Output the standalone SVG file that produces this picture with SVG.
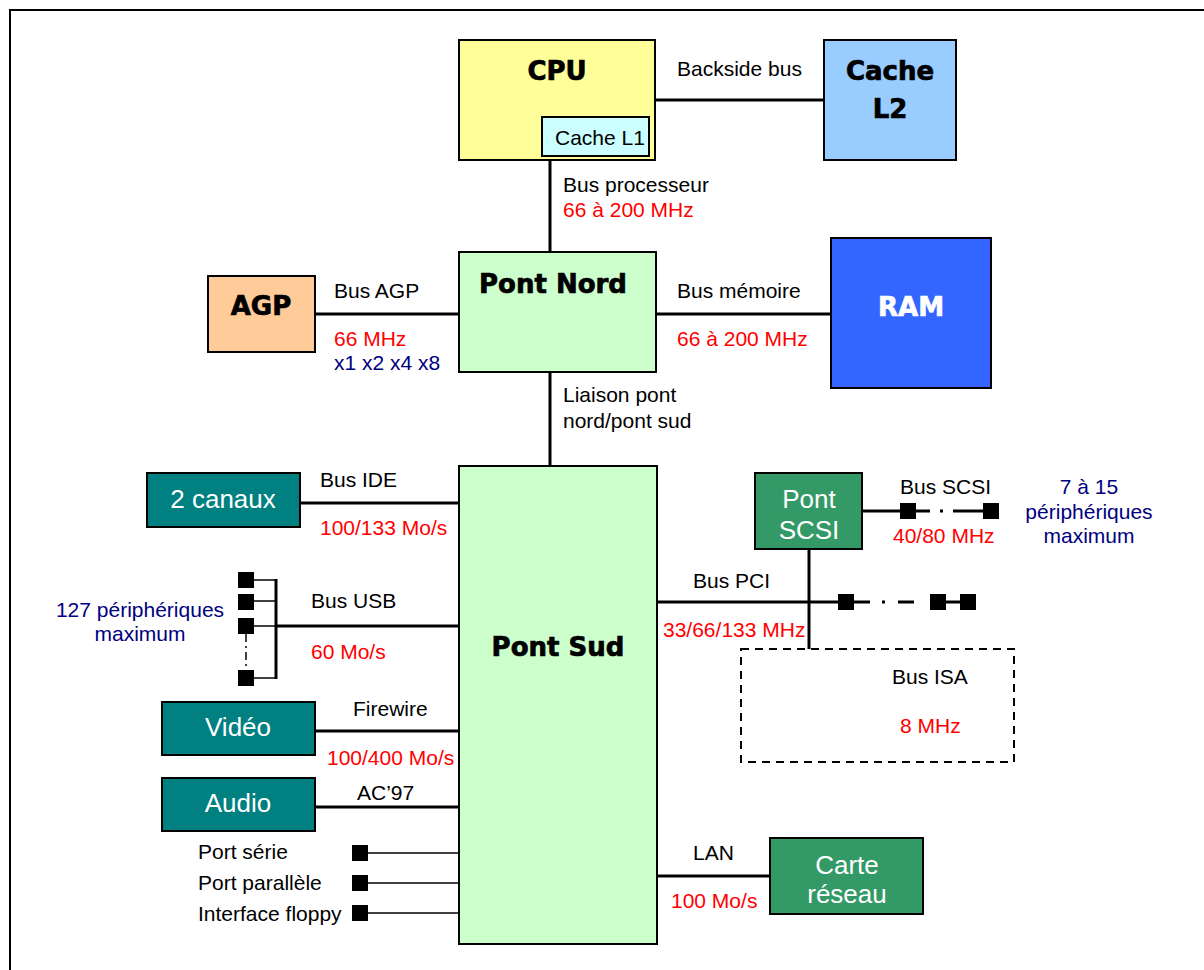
<svg xmlns="http://www.w3.org/2000/svg" width="1204" height="970" viewBox="0 0 1204 970">
<style>
.box{stroke:#000;stroke-width:2}
.bus{stroke:#000;stroke-width:3;fill:none}
.thin{stroke:#000;stroke-width:1.5;fill:none}
.t{font-family:"Liberation Sans",Arial,sans-serif;font-size:21px;fill:#000}
.red{fill:#FF0000}
.navy{fill:#000080}
.w{font-family:"Liberation Sans",Arial,sans-serif;font-size:26px;fill:#fff;text-anchor:middle}
.h{font-family:"DejaVu Sans",sans-serif;font-weight:bold;font-size:26px;fill:#000;stroke:#000;stroke-width:0.7;text-anchor:middle}
.sq{fill:#000}
.c{text-anchor:middle}
</style>
<rect x="0" y="0" width="1204" height="970" fill="#fff"/>
<path d="M10,970 V10 H1204" fill="none" stroke="#000" stroke-width="2"/>

<g id="connectors">
<line class="bus" x1="655" y1="100" x2="824" y2="100"/>
<line class="bus" x1="550" y1="160" x2="550" y2="252"/>
<line class="bus" x1="315" y1="314" x2="459" y2="314"/>
<line class="bus" x1="656" y1="314" x2="831" y2="314"/>
<line class="bus" x1="550" y1="372" x2="550" y2="466"/>
<line class="bus" x1="300" y1="503" x2="459" y2="503"/>
<line class="bus" x1="276" y1="626" x2="459" y2="626"/>
<line class="bus" x1="276" y1="579" x2="276" y2="679"/>
<line class="thin" x1="254" y1="580" x2="276" y2="580"/>
<line class="thin" x1="254" y1="601" x2="276" y2="601"/>
<line class="thin" x1="254" y1="626" x2="276" y2="626"/>
<line class="thin" x1="254" y1="678" x2="276" y2="678"/>
<line x1="246" y1="634" x2="246" y2="670" stroke="#000" stroke-width="1.5" stroke-dasharray="8,4,2,4"/>
<rect class="sq" x="238" y="572" width="16" height="16"/>
<rect class="sq" x="238" y="594" width="16" height="16"/>
<rect class="sq" x="238" y="618" width="16" height="16"/>
<rect class="sq" x="238" y="670" width="16" height="16"/>
<line class="bus" x1="315" y1="731" x2="459" y2="731"/>
<line class="bus" x1="315" y1="807" x2="459" y2="807"/>
<line class="thin" x1="368" y1="853" x2="459" y2="853"/>
<line class="thin" x1="368" y1="883" x2="459" y2="883"/>
<line class="thin" x1="368" y1="913" x2="459" y2="913"/>
<rect class="sq" x="352" y="845" width="16" height="16"/>
<rect class="sq" x="352" y="875" width="16" height="16"/>
<rect class="sq" x="352" y="905" width="16" height="16"/>
<line class="bus" x1="657" y1="876" x2="770" y2="876"/>
<line class="bus" x1="862" y1="511" x2="900" y2="511"/>
<line x1="916" y1="511" x2="983" y2="511" stroke="#000" stroke-width="3" stroke-dasharray="14,10,3,10,40"/>
<rect class="sq" x="900" y="503" width="16" height="16"/>
<rect class="sq" x="983" y="503" width="16" height="16"/>
<line class="bus" x1="657" y1="602" x2="838" y2="602"/>
<line x1="854" y1="602" x2="930" y2="602" stroke="#000" stroke-width="3" stroke-dasharray="16,12,3,13,16"/>
<line class="bus" x1="946" y1="602" x2="960" y2="602"/>
<rect class="sq" x="838" y="594" width="16" height="16"/>
<rect class="sq" x="930" y="594" width="16" height="16"/>
<rect class="sq" x="960" y="594" width="16" height="16"/>
<line class="bus" x1="809" y1="549" x2="809" y2="649"/>
</g>

<g id="cpu">
<rect class="box" x="459" y="40" width="196" height="120" fill="#FFFF99"/>
<text class="h" x="557" y="80">CPU</text>
</g>
<g id="cache-l1">
<rect class="box" x="542" y="117" width="107" height="39" fill="#CCFFFF"/>
<text class="t" x="555" y="145">Cache L1</text>
</g>
<g id="cache-l2">
<rect class="box" x="824" y="40" width="132" height="120" fill="#99CCFF"/>
<text class="h" x="890" y="80">Cache</text>
<text class="h" x="890" y="118">L2</text>
</g>
<text class="t" x="677" y="76">Backside bus</text>
<text class="t" x="563" y="192">Bus processeur</text>
<text class="t red" x="563" y="217">66 à 200 MHz</text>

<g id="pont-nord">
<rect class="box" x="459" y="252" width="197" height="120" fill="#CCFFCC"/>
<text class="h" x="553" y="293">Pont Nord</text>
</g>
<g id="agp">
<rect class="box" x="208" y="276" width="107" height="76" fill="#FFCC99"/>
<text class="h" x="261" y="315">AGP</text>
</g>
<text class="t" x="334" y="298">Bus AGP</text>
<text class="t red" x="334" y="346">66 MHz</text>
<text class="t navy" x="334" y="370">x1 x2 x4 x8</text>
<g id="ram">
<rect class="box" x="831" y="238" width="160" height="150" fill="#3366FF"/>
<text class="h" x="911" y="316" style="fill:#fff;stroke:#fff">RAM</text>
</g>
<text class="t" x="677" y="298">Bus mémoire</text>
<text class="t red" x="677" y="346">66 à 200 MHz</text>
<text class="t" x="563" y="402">Liaison pont</text>
<text class="t" x="563" y="428">nord/pont sud</text>

<g id="pont-sud">
<rect class="box" x="459" y="466" width="198" height="478" fill="#CCFFCC"/>
<text class="h" x="558" y="656">Pont Sud</text>
</g>

<g id="ide">
<rect class="box" x="147" y="473" width="153" height="54" fill="#008080"/>
<text class="w" x="223" y="508">2 canaux</text>
</g>
<text class="t" x="320" y="487">Bus IDE</text>
<text class="t red" x="320" y="535">100/133 Mo/s</text>

<text class="t navy c" x="140" y="617">127 périphériques</text>
<text class="t navy c" x="140" y="641">maximum</text>
<text class="t" x="311" y="608">Bus USB</text>
<text class="t red" x="311" y="659">60 Mo/s</text>

<g id="video">
<rect class="box" x="162" y="702" width="153" height="53" fill="#008080"/>
<text class="w" x="238" y="736">Vidéo</text>
</g>
<text class="t" x="353" y="716">Firewire</text>
<text class="t red" x="327" y="765">100/400 Mo/s</text>
<g id="audio">
<rect class="box" x="162" y="778" width="153" height="53" fill="#008080"/>
<text class="w" x="238" y="812">Audio</text>
</g>
<text class="t" x="357" y="800">AC’97</text>

<text class="t" x="198" y="859">Port série</text>
<text class="t" x="198" y="890">Port parallèle</text>
<text class="t" x="198" y="921">Interface floppy</text>

<g id="carte-reseau">
<rect class="box" x="770" y="838" width="153" height="76" fill="#339966"/>
<text class="w" x="847" y="874">Carte</text>
<text class="w" x="847" y="903">réseau</text>
</g>
<text class="t" x="693" y="860">LAN</text>
<text class="t red" x="671" y="908">100 Mo/s</text>

<g id="pont-scsi">
<rect class="box" x="755" y="473" width="107" height="76" fill="#339966"/>
<text class="w" x="809" y="508">Pont</text>
<text class="w" x="809" y="539">SCSI</text>
</g>
<text class="t" x="900" y="494">Bus SCSI</text>
<text class="t red" x="893" y="543">40/80 MHz</text>
<text class="t navy c" x="1089" y="494">7 à 15</text>
<text class="t navy c" x="1089" y="519">périphériques</text>
<text class="t navy c" x="1089" y="543">maximum</text>

<text class="t" x="693" y="588">Bus PCI</text>
<text class="t red" x="663" y="637">33/66/133 MHz</text>

<g id="isa">
<rect x="741" y="649" width="273" height="113" fill="none" stroke="#000" stroke-width="2" stroke-dasharray="8,6"/>
<text class="t" x="892" y="684">Bus ISA</text>
<text class="t red" x="900" y="733">8 MHz</text>
</g>
</svg>
